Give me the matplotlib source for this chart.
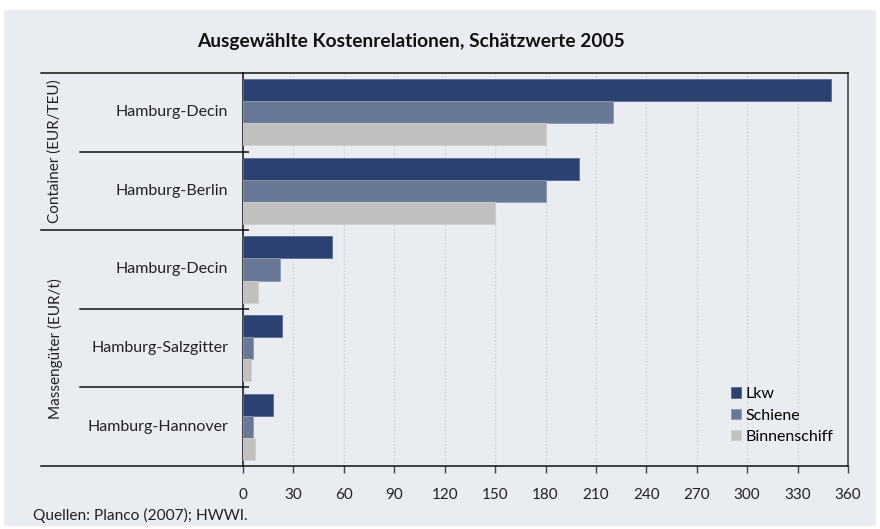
import matplotlib
matplotlib.use("Agg")
import matplotlib.pyplot as plt
import matplotlib.transforms as mtransforms
from matplotlib.patches import Rectangle
import numpy as np

plt.rcParams['font.family'] = ['Lato', 'DejaVu Sans']

title = "Ausgewählte Kostenrelationen, Schätzwerte 2005"
categories = ["Hamburg-Decin", "Hamburg-Berlin", "Hamburg-Decin",
              "Hamburg-Salzgitter", "Hamburg-Hannover"]
groups = ["Container (EUR/TEU)", "Massengüter (EUR/t)"]
series_names = ["Lkw", "Schiene", "Binnenschiff"]
lkw = [350, 200, 53, 23, 18]
schiene = [220, 180, 22, 6, 6]
binnenschiff = [180, 150, 9, 5, 7]
xticks = [0, 30, 60, 90, 120, 150, 180, 210, 240, 270, 300, 330, 360]
source = "Quellen: Planco (2007); HWWI."

colors = ["#2b4170", "#687896", "#c0c0c0"]
edge = ["#5a6d96", "#8e9bb5", "#d0d0d0"]
bg = "#e9ecf1"

W, H = 880, 529
fig = plt.figure(figsize=(W / 100, H / 100), dpi=100)
fig.patch.set_facecolor("white")
fig.add_artist(Rectangle((4 / W, 1 - 526 / H), 872 / W, 516 / H,
                         transform=fig.transFigure, facecolor=bg,
                         edgecolor="none", zorder=-10))

ax = fig.add_axes([243 / W, 1 - 466 / H, 605 / W, 393 / H])
ax.set_facecolor(bg)

y = np.arange(len(categories))
h = 0.28
for i, (vals, name) in enumerate(zip([lkw, schiene, binnenschiff], series_names)):
    ax.barh(y + (i - 1) * h, vals, height=h, color=colors[i],
            edgecolor=edge[i], linewidth=0.6, label=name, zorder=3)

ax.set_xlim(0, 360)
ax.set_ylim(len(categories) - 0.5, -0.5)
ax.set_xticks(xticks)
ax.set_xticklabels([str(t) for t in xticks], fontsize=11, color="#222222")
ax.tick_params(axis="x", direction="out", length=5, width=1, color="#444444", pad=11)
ax.set_yticks([0.5, 1.5, 2.5, 3.5])
ax.set_yticklabels([])
ax.tick_params(axis="y", direction="in", length=4, width=1.2, color="#222222")
ax.grid(axis="x", linestyle=(0, (1, 1.5)), color="#cacdd2", linewidth=1, zorder=0)

for s in ["top", "left", "bottom"]:
    ax.spines[s].set_color("#111111")
    ax.spines[s].set_linewidth(1.1)
ax.spines["right"].set_color("#555555")
ax.spines["right"].set_linewidth(1.3)

trans = mtransforms.blended_transform_factory(fig.transFigure, ax.transData)
x_axes_left = 243 / W
for yy, x0 in [(-0.5, 41), (0.5, 80), (1.5, 41), (2.5, 80), (3.5, 80), (4.5, 41)]:
    ax.plot([x0 / W, x_axes_left], [yy, yy], transform=trans, color="#111111",
            linewidth=1.1, clip_on=False, zorder=5)

for i, c in enumerate(categories):
    ax.text(228 / W, i, c, transform=trans, ha="right", va="center",
            fontsize=11.5, color="#222222")

ax.text(55 / W, 0.5, groups[0], transform=trans, rotation=90, ha="center",
        va="center", fontsize=11, color="#222222")
ax.text(55 / W, 3.0, groups[1], transform=trans, rotation=90, ha="center",
        va="center", fontsize=11, color="#222222")

fig.text(411 / W, 1 - 41 / H, title, ha="center", va="center",
         fontsize=13.8, fontweight="bold", color="#111111")
fig.text(33 / W, 1 - 515 / H, source, ha="left", va="center",
         fontsize=11.2, color="#222222")

leg = ax.legend(loc="lower right", bbox_to_anchor=(1.0, 0.02), frameon=False,
                fontsize=11.5, handlelength=0.65, handleheight=0.65,
                handletextpad=0.3, labelspacing=0.45, borderaxespad=0.5)

fig.savefig("out.png", dpi=100, facecolor=fig.get_facecolor())
